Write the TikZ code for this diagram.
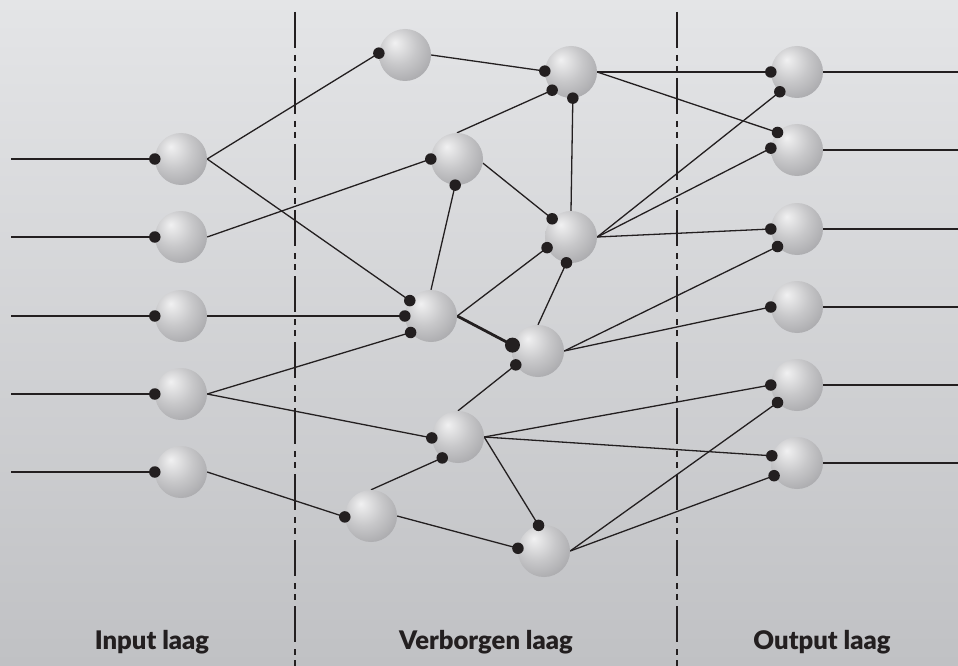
\documentclass[tikz,border=0pt]{standalone}
\usepackage{fontspec}
\setmainfont{Lato}
\newfontfamily\lblfont{Lato Black}
\definecolor{ink}{HTML}{231F20}
\definecolor{bgtop}{HTML}{E4E5E7}
\definecolor{bgbot}{HTML}{C0C1C4}
\pgfdeclareradialshading{sphereshade}{\pgfpoint{-10bp}{12bp}}{color(0bp)=(rgb,255:red,241;green,241;blue,242); color(3bp)=(rgb,255:red,234;green,234;blue,235); color(18bp)=(rgb,255:red,200;green,200;blue,202); color(34bp)=(rgb,255:red,170;green,170;blue,173); color(48bp)=(rgb,255:red,143;green,144;blue,147); color(58bp)=(rgb,255:red,128;green,129;blue,132); color(70bp)=(rgb,255:red,120;green,121;blue,124)}
\begin{document}
\begin{tikzpicture}[x=1pt,y=-1pt,
  sph/.style={circle, minimum size=52pt, inner sep=0pt, shade, shading=sphereshade},
  dot/.style={circle, fill=ink, minimum size=11.5pt, inner sep=0pt},
  bigdot/.style={circle, fill=ink, minimum size=15pt, inner sep=0pt},
  wire/.style={draw=ink, line width=1.3pt},
  thickwire/.style={draw=ink, line width=2.8pt},
  divider/.style={draw=ink, line width=2.6pt, dash pattern=on 36pt off 7pt on 6pt off 5pt on 6pt off 6pt},
  lbl/.style={anchor=base, text=ink, inner sep=0pt, font=\lblfont\fontsize{25.6}{30}\selectfont}]
\shade[top color=bgtop, bottom color=bgbot] (0,0) rectangle (958,666);
\useasboundingbox (0,0) rectangle (958,666);

% dividers
\coordinate (v1t) at (295,12); \coordinate (v1b) at (295,666);
\coordinate (v2t) at (677,12); \coordinate (v2b) at (677,666);
\draw[divider] (v1t) -- (v1b);
\draw[divider] (v2t) -- (v2b);

% sphere positions (placed as coordinates first, spheres drawn later)
\foreach \n/\x/\y in {I1/181/159, I2/181/237, I3/181/316, I4/181/394, I5/181/472,
  H1/405/55, H2/571/72, H3/457/159, H4/571/237, H5/431/316, H6/538/351, H7/458/437, H8/371/516, H9/544/551,
  O1/797/72, O2/797/150, O3/797/229, O4/797/307, O5/797/385, O6/797/463}
  {\node[circle, minimum size=52pt, inner sep=0pt] (\n) at (\x,\y) {};}

% input and output free ends
\foreach \i/\y in {1/159, 2/237, 3/316, 4/394, 5/472} {\coordinate (in\i) at (11,\y);}
\foreach \i/\y in {1/72, 2/150, 3/229, 4/307, 5/385, 6/463} {\coordinate (out\i) at (958,\y);}

% dots (target ends)
\foreach \t/\a/\d in {I1/180/i1a, I2/180/i2a, I3/180/i3a, I4/180/i4a, I5/180/i5a,
  H1/176/h1a, H2/178/h2a, H2/224/h2b, H2/274/h2c, H3/180/h3a, H3/266/h3b,
  H4/136/h4a, H4/204/h4b, H4/260/h4c, H5/144/h5a, H5/180/h5b, H5/219/h5c,
  H6/212/h6b, H7/182/h7a, H7/233/h7b, H8/182/h8a, H9/102/h9a, H9/174/h9b,
  O1/180/o1a, O1/229/o1b, O2/138/o2a, O2/176/o2b, O3/180/o3a, O3/222/o3b,
  O4/180/o4a, O5/180/o5a, O5/222/o5b, O6/164/o6a, O6/209/o6b}
  {\coordinate (\d) at (\t.\a);}
\coordinate (h6a) at (H6.167);

% connectors
\foreach \i in {1,...,5} {\draw[wire] (in\i) -- (i\i a);}
\foreach \i in {1,...,6} {\draw[wire] (O\i.east) -- (out\i);}
\draw[wire] (I1.east) -- (h1a);
\draw[wire] (I1.east) -- (h5a);
\draw[wire] (I2.east) -- (h3a);
\draw[wire] (I3.east) -- (h5b);
\draw[wire] (I4.east) -- (h5c);
\draw[wire] (I4.east) -- (h7a);
\draw[wire] (I5.east) -- (h8a);
\draw[wire] (H1.east) -- (h2a);
\draw[wire] (H3.north) -- (h2b);
\draw[wire] (H5.north) -- (h3b);
\draw[wire] (H3.-9) -- (h4a);
\draw[wire] (H4.north) -- (h2c);
\draw[wire] (H4.east) -- (o1b);
\draw[wire] (H4.east) -- (o2b);
\draw[wire] (H4.east) -- (o3a);
\draw[wire] (H5.east) -- (h4b);
\draw[thickwire] (H5.east) -- (h6a);
\draw[wire] (H6.north) -- (h4c);
\draw[wire] (H6.east) -- (o3b);
\draw[wire] (H6.east) -- (o4a);
\draw[wire] (H7.north) -- (h6b);
\draw[wire] (H7.east) -- (o5a);
\draw[wire] (H7.east) -- (o6a);
\draw[wire] (H7.east) -- (h9a);
\draw[wire] (H8.north) -- (h7b);
\draw[wire] (H8.east) -- (h9b);
\draw[wire] (H9.east) -- (o5b);
\draw[wire] (H9.east) -- (o6b);
\draw[wire] (H2.east) -- (o1a);
\draw[wire] (H2.east) -- (o2a);

% spheres
\foreach \n/\x/\y in {I1/181/159, I2/181/237, I3/181/316, I4/181/394, I5/181/472,
  H1/405/55, H2/571/72, H3/457/159, H4/571/237, H5/431/316, H6/538/351, H7/458/437, H8/371/516, H9/544/551,
  O1/797/72, O2/797/150, O3/797/229, O4/797/307, O5/797/385, O6/797/463}
  {\node[sph] (S\n) at (\x,\y) {};}

% dots
\foreach \d in {i1a,i2a,i3a,i4a,i5a,h1a,h2a,h2b,h2c,h3a,h3b,h4a,h4b,h4c,h5a,h5b,h5c,h6b,h7a,h7b,h8a,h9a,h9b,
  o1a,o1b,o2a,o2b,o3a,o3b,o4a,o5a,o5b,o6a,o6b}
  {\node[dot] at (\d) {};}
\node[bigdot] at (h6a) {};

% labels
\node[lbl] (L1) at (152,649) {Input laag};
\node[lbl] (L2) at (486,649) {Verborgen laag};
\node[lbl] (L3) at (822,649) {Output laag};
\end{tikzpicture}
\end{document}
